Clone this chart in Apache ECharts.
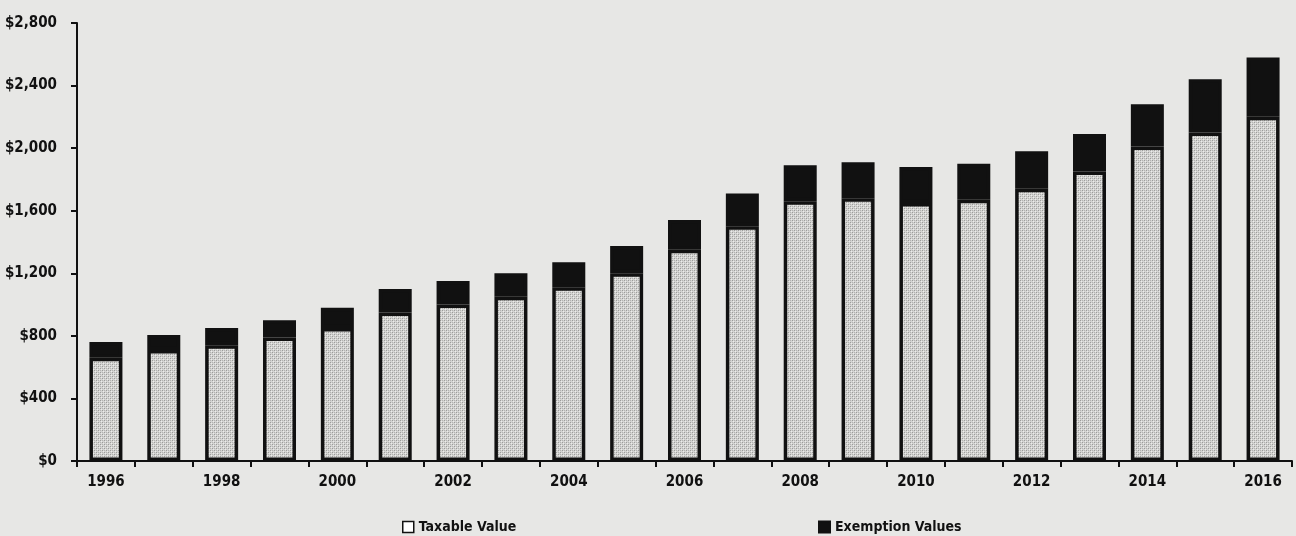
<!DOCTYPE html>
<html>
<head>
<meta charset="utf-8">
<script src="https://cdn.jsdelivr.net/npm/echarts@6/dist/echarts.min.js"></script>
<style>
  html, body { margin: 0; padding: 0; background: #e7e7e5; }
  #chart { width: 1296px; height: 536px; }
</style>
</head>
<body>
<div id="chart"></div>
<script>
// Assessed value by year, in millions of dollars
const years = ['1996','1997','1998','1999','2000','2001','2002','2003','2004','2005','2006',
               '2007','2008','2009','2010','2011','2012','2013','2014','2015','2016'];
const taxableValue = [660, 710, 740, 790, 850, 950, 1000, 1050, 1110, 1200, 1350,
                      1500, 1660, 1680, 1650, 1670, 1740, 1850, 2010, 2100, 2200];
const totalValue =   [760, 805, 850, 900, 980, 1100, 1150, 1200, 1270, 1375, 1540,
                      1710, 1890, 1910, 1880, 1900, 1980, 2090, 2280, 2440, 2580];
const exemptionValues = totalValue.map((t, i) => t - taxableValue[i]);
const yTicks = [0, 400, 800, 1200, 1600, 2000, 2400, 2800];

// Gray stippled fill for the taxable portion
function stipple() {
  const c = document.createElement('canvas');
  c.width = 4; c.height = 4;
  const g = c.getContext('2d');
  g.fillStyle = '#d4d4d2';
  g.fillRect(0, 0, 4, 4);
  g.fillStyle = '#9c9c9a';
  g.fillRect(0, 0, 1, 1);
  g.fillRect(2, 2, 1, 1);
  g.fillStyle = '#b4b4b2';
  g.fillRect(2, 0, 1, 1);
  g.fillRect(0, 2, 1, 1);
  g.fillStyle = '#ececea';
  g.fillRect(1, 1, 1, 1);
  g.fillRect(3, 3, 1, 1);
  return c;
}

const font = "'Liberation Sans Narrow', 'DejaVu Sans Condensed', sans-serif";
const chart = echarts.init(document.getElementById('chart'));

chart.setOption({
  backgroundColor: '#e7e7e5',
  animation: false,
  grid: { left: 77, right: 4, top: 23, bottom: 75 },
  legend: [
    {
      left: 397, top: 515,
      data: [{ name: 'Taxable Value', icon: 'rect',
               itemStyle: { color: '#ffffff', borderColor: '#111', borderWidth: 1.5 } }],
      itemWidth: 11, itemHeight: 11, itemGap: 4,
      textStyle: { fontFamily: font, fontWeight: 'bold', fontSize: 14, color: '#111' }
    },
    {
      left: 813, top: 515,
      data: [{ name: 'Exemption Values', icon: 'rect' }],
      itemWidth: 11, itemHeight: 11, itemGap: 4,
      textStyle: { fontFamily: font, fontWeight: 'bold', fontSize: 14, color: '#111' }
    }
  ],
  xAxis: {
    type: 'category',
    data: years,
    axisLine: { lineStyle: { color: '#111', width: 2 } },
    axisTick: { show: true, length: 6, interval: 0, lineStyle: { color: '#111', width: 2 } },
    axisLabel: {
      interval: 1, margin: 14,
      fontFamily: font, fontWeight: 'bold', fontSize: 15, color: '#111'
    }
  },
  yAxis: {
    type: 'value',
    min: yTicks[0], max: yTicks[yTicks.length - 1], interval: 400,
    axisLine: { show: true, lineStyle: { color: '#111', width: 2 } },
    axisTick: { show: true, length: 6, lineStyle: { color: '#111', width: 2 } },
    splitLine: { show: false },
    axisLabel: {
      margin: 20,
      fontFamily: font, fontWeight: 'bold', fontSize: 15, color: '#111',
      formatter: v => '$' + v.toLocaleString('en-US')
    }
  },
  series: [
    {
      name: 'Taxable Value',
      type: 'bar',
      stack: 'value',
      barWidth: 33,
      data: taxableValue,
      itemStyle: {
        color: { image: stipple(), repeat: 'repeat' },
        borderColor: '#111',
        borderWidth: 3.5
      }
    },
    {
      name: 'Exemption Values',
      type: 'bar',
      stack: 'value',
      barWidth: 33,
      data: exemptionValues,
      itemStyle: { color: '#111', borderColor: '#111', borderWidth: 3.5 }
    }
  ]
});
</script>
</body>
</html>
